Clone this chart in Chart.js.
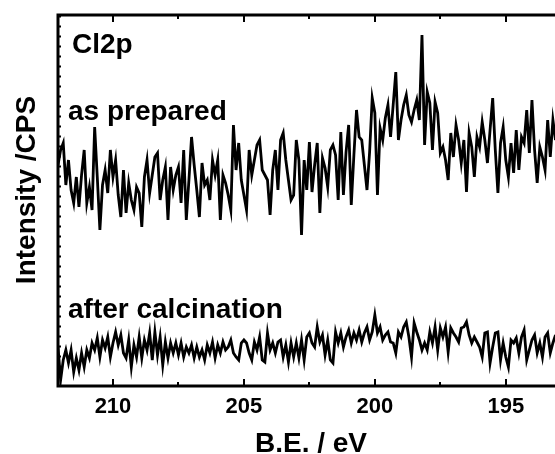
<!DOCTYPE html>
<html>
<head>
<meta charset="utf-8">
<title>Cl2p XPS</title>
<script src="https://cdn.jsdelivr.net/npm/chart.js@4.4.1/dist/chart.umd.min.js"></script>
<style>
  html, body { margin: 0; padding: 0; background: #fff; overflow: hidden; }
  #wrap { width: 566px; height: 454px; }
</style>
</head>
<body>
<div id="wrap"><canvas id="myChart" width="566" height="454"></canvas></div>
<script>
// binding energy grid (eV), scanned high -> low
var eStart = 212.1;
var eStep = 0.1;

var xTicks = [210, 205, 200, 195];
var xMinorTicks = [207.5, 202.5, 197.5];

// intensity, arbitrary units
var asPrepared = [
  221, 236, 243, 201, 226, 196, 183, 209, 179, 211, 236, 183, 199, 176, 259, 209, 156, 201, 216, 193,
  236, 209, 226, 191, 169, 216, 173, 203, 186, 176, 199, 193, 159, 209, 226, 193, 211, 229, 233, 186,
  206, 219, 166, 219, 196, 211, 219, 183,
  236, 166, 206, 249, 221, 196, 169, 223, 201, 206, 186, 226, 211, 226, 166, 211, 203, 191, 176, 261,
  216, 243, 206, 191, 176, 236, 211, 226, 241, 246, 216, 211, 206, 171, 216, 236, 196, 246, 253, 226,
  206, 186, 191, 246, 226, 151, 226,
  196, 244, 194, 221, 243, 173, 228, 218, 199, 236, 241, 231, 186, 254, 191, 234, 261, 181, 231, 276,
  249, 246, 221, 196, 234, 288, 273, 191, 258, 246, 268, 281, 249, 281, 314, 246, 266, 281, 291, 271,
  264, 276, 286, 266, 351, 241,
  294, 283, 236, 284, 273, 233, 239, 226, 206, 253, 229, 261, 246, 223, 246, 194, 253, 239, 209, 249,
  239, 264, 246, 223, 256, 288, 236, 193, 243, 259, 226, 209, 243, 213, 256, 216, 249, 243, 276, 233,
  286, 236, 203, 239, 229, 216, 266, 229, 266, 246
];

var afterCalcination = [
  39, 6, 26, 36, 23, 36, 14, 28, 16, 33, 19, 36, 28, 43, 36, 48, 29, 46, 38, 49,
  29, 43, 54, 41, 51, 33, 28, 46, 19, 41, 29, 49, 28, 46, 36, 53, 26, 54, 31, 49,
  21, 44, 28, 43, 33, 43, 31, 43, 29, 39, 33, 41, 28, 39, 29, 36, 26, 41, 33, 44,
  28, 41, 33, 44, 36,
  39, 46, 33, 29, 26, 43, 46, 43, 33, 26, 44, 36, 49, 26, 24, 53, 36, 43, 33, 44,
  46, 29, 41, 24, 43, 29, 43, 28, 46, 26, 49, 53, 43, 39, 59, 44, 51, 31, 46, 26,
  23, 54, 43, 53, 39, 49, 56, 43, 53, 46, 56, 44, 53, 59, 46, 54, 71, 53, 59, 46,
  51, 54, 44,
  43, 33, 54, 49, 59, 64, 49, 29, 63, 54, 46, 36, 43, 36, 54, 43, 59, 36, 58, 49,
  59, 34, 58, 53, 49, 44, 58, 59, 64, 51, 43, 49, 44, 39, 29, 53, 54, 23, 39, 53,
  54, 26, 43, 29, 19, 46, 43, 48, 33, 49, 56, 26, 36, 46, 51, 33, 43, 29, 49, 53,
  33, 43, 51
];

var energies = asPrepared.map(function (v, i) {
  return +(eStart - i * eStep).toFixed(2);
});

function toPoints(arr) {
  return arr.map(function (v, i) { return { x: energies[i], y: v }; });
}

var FONT = '"Liberation Sans", Arial, sans-serif';

// frame, inward ticks and the text labels
var decor = {
  id: 'decor',
  afterDraw: function (chart) {
    var ctx = chart.ctx;
    var a = chart.chartArea;
    var xs = chart.scales.x, ys = chart.scales.y;
    ctx.save();
    ctx.strokeStyle = '#000';
    ctx.lineWidth = 3;
    ctx.strokeRect(a.left, a.top, a.right - a.left, a.bottom - a.top);

    ctx.lineWidth = 2;
    ctx.beginPath();
    xTicks.forEach(function (v) {
      var px = Math.round(xs.getPixelForValue(v));
      ctx.moveTo(px, a.bottom); ctx.lineTo(px, a.bottom - 7);
      ctx.moveTo(px, a.top); ctx.lineTo(px, a.top + 7);
    });
    xMinorTicks.forEach(function (v) {
      var px = Math.round(xs.getPixelForValue(v));
      ctx.moveTo(px, a.bottom); ctx.lineTo(px, a.bottom - 4);
      ctx.moveTo(px, a.top); ctx.lineTo(px, a.top + 4);
    });
    for (var v = 10; v < ys.max; v += 10) {
      var py = Math.round(ys.getPixelForValue(v)) + 0.5;
      ctx.moveTo(a.left, py); ctx.lineTo(a.left + 3, py);
    }
    ctx.stroke();

    ctx.fillStyle = '#000';
    ctx.font = 'bold 28px ' + FONT;
    ctx.textAlign = 'left';
    ctx.textBaseline = 'alphabetic';
    ctx.fillText('Cl2p', a.left + 14, 53);
    ctx.fillText('as prepared', a.left + 10, 120);
    ctx.fillText('after calcination', a.left + 10, 318);

    ctx.textAlign = 'center';
    ctx.fillText('B.E. / eV', 311, 452);

    ctx.translate(35, 190);
    ctx.rotate(-Math.PI / 2);
    ctx.fillText('Intensity /CPS', 0, 0);
    ctx.restore();
  }
};

var ctx = document.getElementById('myChart');

var myChart = new Chart(ctx, {
  type: 'line',
  data: {
    datasets: [{
      label: 'as prepared',
      data: toPoints(asPrepared),
      borderColor: '#000',
      borderWidth: 2.8,
      pointRadius: 0,
      tension: 0
    }, {
      label: 'after calcination',
      data: toPoints(afterCalcination),
      borderColor: '#000',
      borderWidth: 2.8,
      pointRadius: 0,
      tension: 0
    }]
  },
  options: {
    responsive: false,
    animation: false,
    layout: { padding: { top: 15, left: 0, right: 0, bottom: 0 } },
    plugins: {
      legend: { display: false },
      tooltip: { enabled: false }
    },
    scales: {
      x: {
        type: 'linear',
        reverse: true,
        min: 192.7,
        max: 212.1,
        afterFit: function (s) { s.height = 68; },
        afterBuildTicks: function (s) {
          s.ticks = xTicks.map(function (v) { return { value: v }; });
        },
        ticks: {
          color: '#000',
          padding: 0,
          font: { family: FONT, size: 22, weight: 'bold' }
        },
        grid: { display: false },
        border: { display: false }
      },
      y: {
        min: 0,
        max: 371,
        afterFit: function (s) { s.width = 58; },
        ticks: { display: false },
        grid: { display: false },
        border: { display: false }
      }
    }
  },
  plugins: [decor]
});
</script>
</body>
</html>
